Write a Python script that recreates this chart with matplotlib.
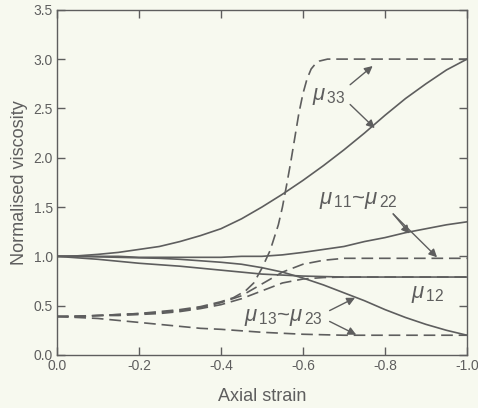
import matplotlib
matplotlib.use('Agg')
import matplotlib.pyplot as plt

plt.rcParams['font.family'] = ['Liberation Sans', 'DejaVu Sans']
plt.rcParams['mathtext.fontset'] = 'custom'
plt.rcParams['mathtext.rm'] = 'Liberation Sans'
plt.rcParams['mathtext.it'] = 'Liberation Sans:italic'
plt.rcParams['axes.unicode_minus'] = False

# Axial strain grid for most curves
strain = [0, -0.05, -0.1, -0.15, -0.2, -0.25, -0.3, -0.35, -0.4, -0.45, -0.5,
          -0.55, -0.6, -0.65, -0.7, -0.75, -0.8, -0.85, -0.9, -0.95, -1.0]

# solid curves
mu33_solid = [1.00, 1.005, 1.02, 1.04, 1.07, 1.10, 1.15, 1.21, 1.28, 1.38, 1.50,
              1.63, 1.77, 1.92, 2.08, 2.25, 2.43, 2.60, 2.75, 2.89, 3.00]
mu11_solid = [1.00, 1.00, 1.00, 1.00, 0.99, 0.99, 0.99, 0.99, 0.99, 1.00, 1.00,
              1.015, 1.04, 1.07, 1.10, 1.15, 1.19, 1.24, 1.28, 1.32, 1.35]
mu12_solid = [1.00, 0.985, 0.97, 0.95, 0.93, 0.915, 0.90, 0.88, 0.86, 0.84, 0.82,
              0.81, 0.80, 0.795, 0.79, 0.79, 0.79, 0.79, 0.79, 0.79, 0.79]
mu13_solid = [1.00, 1.00, 0.995, 0.99, 0.985, 0.98, 0.97, 0.955, 0.94, 0.92, 0.885,
              0.84, 0.78, 0.71, 0.63, 0.55, 0.46, 0.38, 0.31, 0.25, 0.20]

# dashed curves
mu11_dash = [0.39, 0.39, 0.40, 0.41, 0.42, 0.43, 0.45, 0.48, 0.53, 0.60, 0.72,
             0.84, 0.92, 0.96, 0.98, 0.98, 0.98, 0.98, 0.98, 0.98, 0.98]
mu12_dash = [0.39, 0.39, 0.40, 0.40, 0.41, 0.42, 0.44, 0.47, 0.51, 0.57, 0.65,
             0.73, 0.77, 0.785, 0.79, 0.79, 0.79, 0.79, 0.79, 0.79, 0.79]
mu13_dash = [0.39, 0.38, 0.37, 0.35, 0.33, 0.31, 0.29, 0.27, 0.26, 0.245, 0.23,
             0.22, 0.21, 0.205, 0.20, 0.20, 0.20, 0.20, 0.20, 0.20, 0.20]

strain33 = [0, -0.1, -0.2, -0.3, -0.35, -0.4, -0.43, -0.46, -0.48, -0.5, -0.52,
            -0.54, -0.55, -0.56, -0.57, -0.58, -0.59, -0.6, -0.61, -0.62, -0.63,
            -0.64, -0.66, -0.7, -0.8, -0.9, -1.0]
mu33_dash = [0.39, 0.40, 0.42, 0.46, 0.49, 0.54, 0.58, 0.65, 0.73, 0.88, 1.06,
             1.32, 1.50, 1.72, 1.95, 2.20, 2.45, 2.65, 2.80, 2.90, 2.95,
             2.98, 3.00, 3.00, 3.00, 3.00, 3.00]

ink = '#5e5e5e'
bg = '#f7f9ef'

fig = plt.figure(figsize=(4.78, 4.08), dpi=100, facecolor=bg)
ax = fig.add_axes([0.119, 0.130, 0.858, 0.846], facecolor=bg)

dash = (0, (7, 3.5))
for y in [mu33_solid, mu11_solid, mu12_solid, mu13_solid]:
    ax.plot(strain, y, color=ink, lw=1.2)
for y in [mu11_dash, mu12_dash, mu13_dash]:
    ax.plot(strain, y, color=ink, lw=1.2, linestyle=dash)
ax.plot(strain33, mu33_dash, color=ink, lw=1.2, linestyle=dash)

ax.set_xlim(0, -1.0)
ax.set_ylim(0, 3.5)
ax.set_xticks([0, -0.2, -0.4, -0.6, -0.8, -1.0])
ax.set_xticklabels(['0.0', '-0.2', '-0.4', '-0.6', '-0.8', '-1.0'])
ax.set_yticks([0, 0.5, 1.0, 1.5, 2.0, 2.5, 3.0, 3.5])
ax.set_yticklabels(['0.0', '0.5', '1.0', '1.5', '2.0', '2.5', '3.0', '3.5'])
ax.tick_params(direction='in', top=True, right=True, length=6, width=1.0,
               colors=ink, labelsize=10, pad=3)
for s in ax.spines.values():
    s.set_color(ink)
    s.set_linewidth(1.0)

ax.set_xlabel('Axial strain', fontsize=13, color=ink, labelpad=11)
ax.set_ylabel('Normalised viscosity', fontsize=13, color=ink, labelpad=4)

tkw = dict(fontsize=16, color=ink, ha='center', va='center')
akw = dict(arrowstyle='-|>', color=ink, lw=1.0, mutation_scale=12, shrinkA=0, shrinkB=0)

ax.text(-0.662, 2.62, r'$\mu_{\,\rm 33}$', **tkw)
ax.annotate('', xy=(-0.77, 2.93), xytext=(-0.715, 2.74), arrowprops=akw)
ax.annotate('', xy=(-0.775, 2.30), xytext=(-0.715, 2.54), arrowprops=akw)

ax.text(-0.735, 1.57, r'$\mu_{\,\rm 11}$~$\mu_{\,\rm 22}$', **tkw)
ax.annotate('', xy=(-0.86, 1.23), xytext=(-0.82, 1.43), arrowprops=akw)
ax.annotate('', xy=(-0.927, 0.99), xytext=(-0.82, 1.43), arrowprops=akw)

ax.text(-0.905, 0.61, r'$\mu_{\,\rm 12}$', **tkw)

ax.text(-0.553, 0.38, r'$\mu_{\,\rm 13}$~$\mu_{\,\rm 23}$', **tkw)
ax.annotate('', xy=(-0.727, 0.58), xytext=(-0.665, 0.45), arrowprops=akw)
ax.annotate('', xy=(-0.73, 0.205), xytext=(-0.665, 0.34), arrowprops=akw)

fig.savefig('out.png', dpi=100, facecolor=bg)
